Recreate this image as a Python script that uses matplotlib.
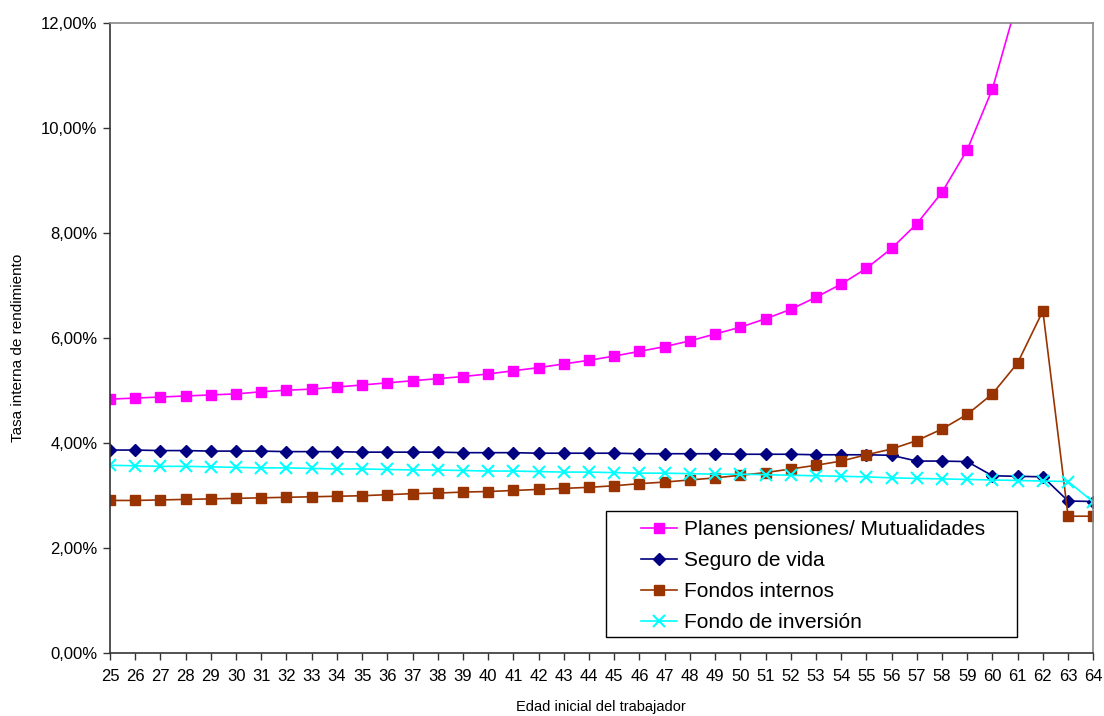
import matplotlib
matplotlib.use("Agg")
import matplotlib.pyplot as plt
from matplotlib.ticker import FuncFormatter
from matplotlib.patches import Rectangle

ages = list(range(25, 65))

planes = [4.83, 4.85, 4.87, 4.89, 4.91, 4.93, 4.97, 5.00, 5.02, 5.06,
          5.10, 5.14, 5.18, 5.22, 5.26, 5.31, 5.37, 5.43, 5.50, 5.57,
          5.65, 5.74, 5.83, 5.94, 6.07, 6.20, 6.36, 6.54, 6.77, 7.02,
          7.32, 7.70, 8.17, 8.77, 9.58, 10.74, 12.44, None, None, None]

seguro = [3.86, 3.86, 3.85, 3.85, 3.84, 3.84, 3.84, 3.83, 3.83, 3.83,
          3.82, 3.82, 3.82, 3.82, 3.81, 3.81, 3.81, 3.80, 3.80, 3.80,
          3.80, 3.79, 3.79, 3.79, 3.79, 3.78, 3.78, 3.78, 3.77, 3.77,
          3.77, 3.76, 3.65, 3.65, 3.64, 3.37, 3.36, 3.35, 2.89, 2.88]

fondos_internos = [2.90, 2.90, 2.91, 2.92, 2.93, 2.94, 2.95, 2.96, 2.97, 2.98,
                   2.99, 3.01, 3.03, 3.04, 3.06, 3.07, 3.09, 3.11, 3.13, 3.15,
                   3.18, 3.22, 3.25, 3.29, 3.33, 3.38, 3.43, 3.50, 3.57, 3.65,
                   3.77, 3.88, 4.04, 4.26, 4.54, 4.93, 5.52, 6.51, 2.60, 2.60]

fondo_inversion = [3.57, 3.56, 3.55, 3.55, 3.54, 3.53, 3.52, 3.52, 3.51, 3.50,
                   3.50, 3.49, 3.48, 3.48, 3.47, 3.46, 3.46, 3.45, 3.44, 3.44,
                   3.43, 3.42, 3.42, 3.41, 3.40, 3.40, 3.39, 3.38, 3.37, 3.36,
                   3.35, 3.33, 3.32, 3.31, 3.30, 3.29, 3.28, 3.27, 3.26, 2.87]

labels = ["Planes pensiones/ Mutualidades", "Seguro de vida",
          "Fondos internos", "Fondo de inversión"]

plt.rcParams['font.family'] = ['Liberation Sans', 'DejaVu Sans']

W, H = 1104, 716
fig = plt.figure(figsize=(W/100, H/100), dpi=100)
ax = fig.add_axes([110/W, (H-652.7)/H, (1093.3-110)/W, (652.7-22.7)/H])

pl = [float('nan') if v is None else v for v in planes]
ax.plot(ages, pl, color='#FF00FF', lw=1.2, marker='s', ms=7.2,
        mfc='#FF00FF', mec='#FF00FF', label=labels[0])
ax.plot(ages, seguro, color='#000080', lw=1.2, marker='D', ms=6,
        mfc='#000080', mec='#000080', label=labels[1])
ax.plot(ages, fondos_internos, color='#993300', lw=1.2, marker='s', ms=7.2,
        mfc='#993300', mec='#993300', label=labels[2])
ax.plot(ages, fondo_inversion, color='#00FFFF', lw=1.2, marker='x', ms=8,
        mew=1.5, label=labels[3])

ax.set_xlim(25, 64)
ax.set_ylim(0, 12)
ax.set_xticks(ages)
ax.set_yticks([0, 2, 4, 6, 8, 10, 12])
ax.yaxis.set_major_formatter(FuncFormatter(lambda v, p: f"{v:.2f}%".replace('.', ',')))
ax.tick_params(axis='both', direction='out', length=5, width=1, labelsize=12,
               color='#333333', pad=4)
ax.tick_params(axis='x', pad=7)

for s in ['left', 'bottom']:
    ax.spines[s].set_color('#333333')
    ax.spines[s].set_linewidth(1.2)
for s in ['top', 'right']:
    ax.spines[s].set_color('#888888')
    ax.spines[s].set_linewidth(1.2)

fig.text(18/W, 1 - 348/H, "Tasa interna de rendimiento", rotation=90,
         ha='center', va='center', fontsize=11)
fig.text(601/W, 1 - 707/H, "Edad inicial del trabajador",
         ha='center', va='center', fontsize=10.5)

# legend frame
fig.patches.append(Rectangle((605.7/W, (H-636.7)/H), (1017-605.7)/W, (636.7-511)/H,
                             transform=fig.transFigure, fill=True, facecolor='white',
                             edgecolor='black', lw=1.0, zorder=5))

leg = fig.legend(loc='upper left', bbox_to_anchor=(641/W, 1 - 520/H),
                 fontsize=15, frameon=False, borderaxespad=0, borderpad=0,
                 handlelength=1.75, handletextpad=0.3, labelspacing=0.58)
leg.set_zorder(6)

fig.savefig("out.png", dpi=100)
